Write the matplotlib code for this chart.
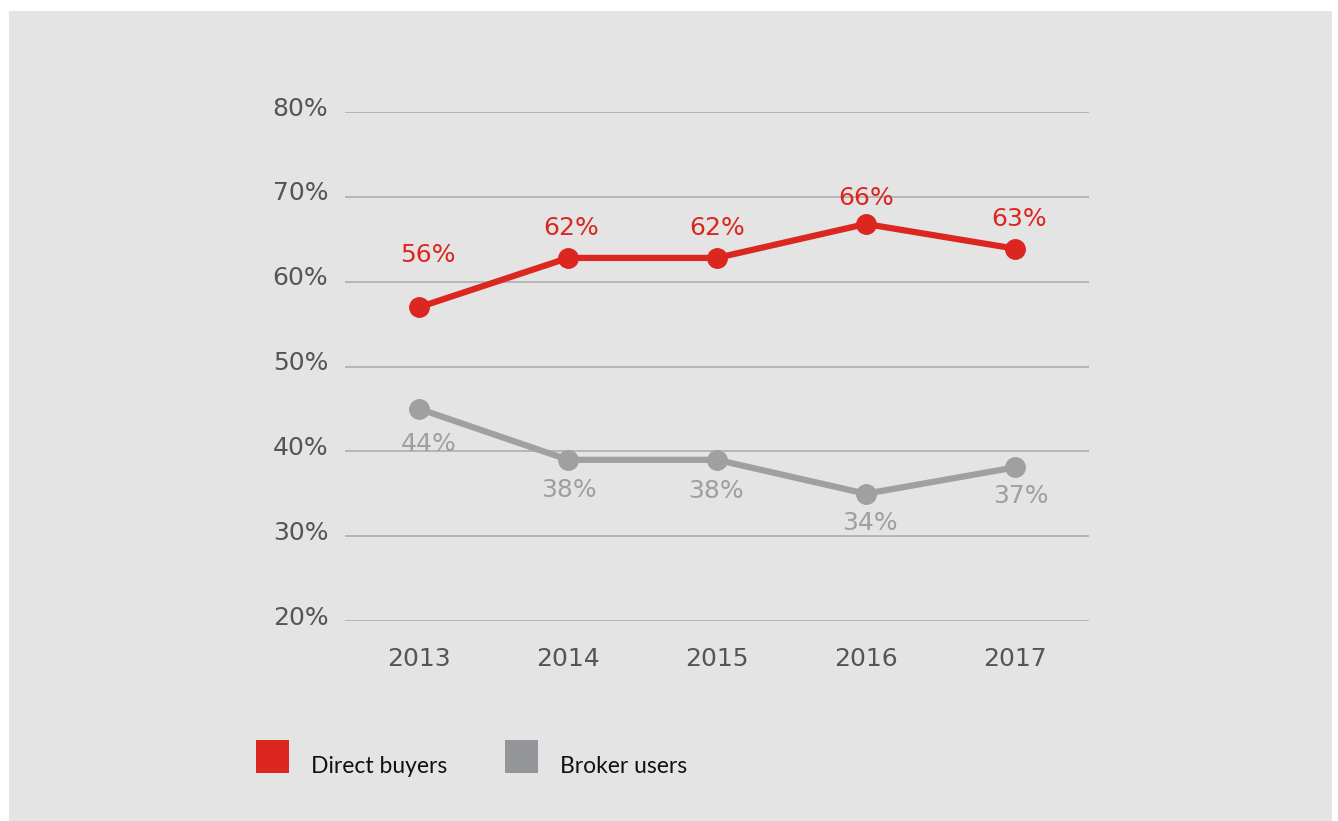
import matplotlib
matplotlib.use("Agg")
import matplotlib.pyplot as plt
import matplotlib.transforms as mtransforms
from matplotlib.patches import Rectangle

# ---- data ----
years = ["2013", "2014", "2015", "2016", "2017"]
direct_values = [57.0, 62.8, 62.8, 66.8, 63.9]
direct_labels = ["56%", "62%", "62%", "66%", "63%"]
broker_values = [45.0, 39.0, 39.0, 35.0, 38.1]
broker_labels = ["44%", "38%", "38%", "34%", "37%"]
y_ticks = [20, 30, 40, 50, 60, 70, 80]
y_tick_labels = ["20%", "30%", "40%", "50%", "60%", "70%", "80%"]
series_names = ["Direct buyers", "Broker users"]

# ---- styles ----
RED = "#dc2620"
GREY_LINE = "#a19fa0"
GREY_LEGEND = "#939598"
GREY_TEXT = "#a09e9f"
TICK_COLOR = "#555555"
BG = "#e4e4e4"
NUM_FONT = "DejaVu Sans"

W, H = 1338, 821
fig = plt.figure(figsize=(W / 100, H / 100), dpi=100)
fig.patch.set_facecolor("white")
fig.patches.append(Rectangle((9 / W, 0), (1332 - 9) / W, (H - 11) / H,
                             transform=fig.transFigure, facecolor=BG,
                             edgecolor="none", zorder=-5))

ax = fig.add_axes([345 / W, 1 - 621 / H, (1089 - 345) / W, (621 - 112) / H])
ax.set_zorder(2)
ax.set_facecolor("none")
x = list(range(len(years)))

ax.set_xlim(-0.5, 4.5)
ax.set_ylim(20, 80)
ax.set_yticks(y_ticks)
ax.set_yticklabels(y_tick_labels, family=NUM_FONT)
ax.set_xticks(x)
ax.set_xticklabels(years, family=NUM_FONT)
for s in ax.spines.values():
    s.set_visible(False)
ax.tick_params(axis="both", length=0, labelcolor=TICK_COLOR, labelsize=18)
ax.tick_params(axis="y", pad=12)
ax.tick_params(axis="x", pad=19)
ax.grid(axis="y", color="#adadad", linewidth=1.2)
ax.set_axisbelow(True)

# raise y tick labels slightly above their gridlines
shift = mtransforms.ScaledTranslation(0, 6 / 100, fig.dpi_scale_trans)
for lab in ax.get_yticklabels():
    lab.set_transform(lab.get_transform() + shift)

ax.plot(x, direct_values, color=RED, linewidth=4.5, marker="o",
        markersize=14, zorder=3)
ax.plot(x, broker_values, color=GREY_LINE, linewidth=4.5, marker="o",
        markersize=14, zorder=3)

# label offsets in pixels (dx, dy) relative to each point
direct_off = [(8, 52), (3, 30), (0, 30), (0, 26), (4, 30)]
broker_off = [(9, -35), (1, -30), (-1, -31), (4, -29), (6, -29)]
for xi, v, lab, (dx, dy) in zip(x, direct_values, direct_labels, direct_off):
    ax.annotate(lab, (xi, v), xytext=(dx * 0.72, dy * 0.72),
                textcoords="offset points", ha="center", va="center",
                color=RED, fontsize=18, family=NUM_FONT, zorder=4)
for xi, v, lab, (dx, dy) in zip(x, broker_values, broker_labels, broker_off):
    ax.annotate(lab, (xi, v), xytext=(dx * 0.72, dy * 0.72),
                textcoords="offset points", ha="center", va="center",
                color=GREY_TEXT, fontsize=18, family=NUM_FONT, zorder=4)

# legend
leg_colors = [RED, GREY_LEGEND]
sq_x = [256, 505]
txt_x = [311, 560]
for name, c, sx, tx in zip(series_names, leg_colors, sq_x, txt_x):
    fig.patches.append(Rectangle((sx / W, 1 - 773 / H), 33 / W, 33 / H,
                                 transform=fig.transFigure, facecolor=c,
                                 edgecolor="none", zorder=2))
    fig.text(tx / W, 1 - 766 / H, name, ha="left", va="center",
             fontsize=16.5, color="#111111", family="Lato")

fig.savefig("out.png", dpi=100, facecolor=fig.get_facecolor())
